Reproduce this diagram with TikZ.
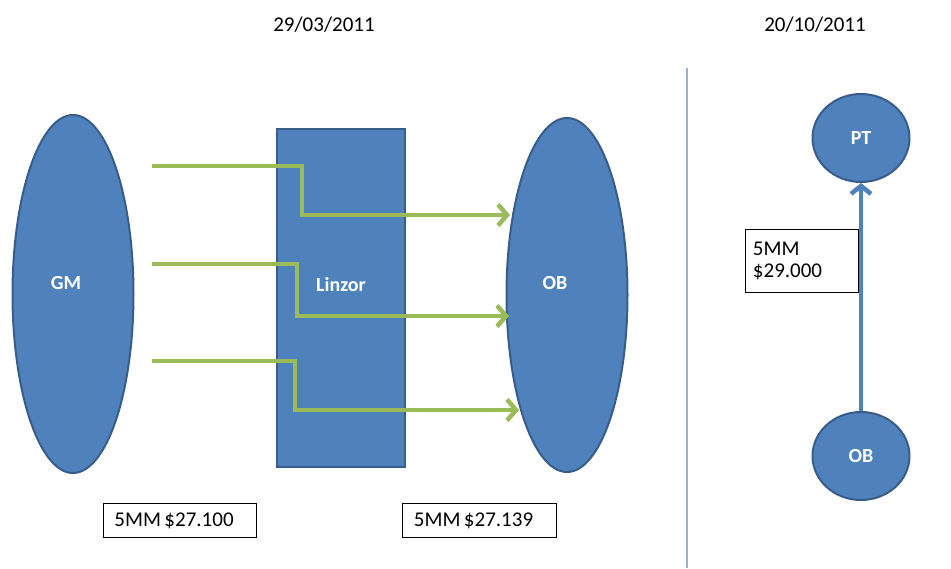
\documentclass[tikz,border=0pt]{standalone}
\usepackage{fontspec}
\setmainfont{Carlito}
\usetikzlibrary{arrows.meta,shapes.geometric}
\definecolor{shapefill}{HTML}{4F81BD}
\definecolor{shapeedge}{HTML}{385D8A}
\definecolor{flowgreen}{HTML}{9BBB59}
\definecolor{sepblue}{HTML}{95B3D7}
\tikzset{
  party/.style={ellipse, fill=shapefill, draw=shapeedge, line width=2pt, inner sep=0pt},
  lbl/.style={text=white, font=\fontsize{20}{24}\selectfont\bfseries},
  amount/.style={draw=black, line width=0.9pt, fill=white, anchor=north west,
    font=\fontsize{21}{22}\selectfont, align=left, inner sep=0pt},
  flow/.style={draw=flowgreen, line width=4.5pt,
    -{Straight Barb[length=9pt,width=21pt]}},
}

\begin{document}
\begin{tikzpicture}[x=1pt,y=-1pt]
    \useasboundingbox (0,0) rectangle (951,568);
    % ---- first date: GM to OB through Linzor
    \node (d1) at (324,25) {\fontsize{21}{24}\selectfont 29/03/2011};
    \node[party, minimum width=121pt, minimum height=358pt,
      label={[lbl,xshift=-7pt,yshift=11pt]center:GM}] (gm) at (73,294) {};
    \node[rectangle, fill=shapefill, draw=shapeedge, line width=2pt,
      minimum width=128pt, minimum height=338pt,
      label={[lbl,yshift=13pt]center:Linzor}] (lz) at (341,298) {};
    \node[party, minimum width=121pt, minimum height=354pt,
      label={[lbl,xshift=-12pt,yshift=12pt]center:OB}] (ob) at (567,295) {};
    \coordinate (s1) at (152,166); \coordinate (k1) at (302,215); \coordinate (e1) at (510,215);
    \coordinate (s2) at (152,264); \coordinate (k2) at (297,316); \coordinate (e2) at (509,316);
    \coordinate (s3) at (152,361); \coordinate (k3) at (295,410); \coordinate (e3) at (519,410);
    \foreach \i in {1,2,3} { \draw[flow] (s\i) -| (k\i) -- (e\i); }
    \node[amount, minimum width=153pt, minimum height=34pt, text width=131pt]
      (m1) at (103,503) {5MM\,\$27.100};
    \node[amount, minimum width=154pt, minimum height=34pt, text width=131pt]
      (m2) at (402,503) {5MM\,\$27.139};
    % ---- divider
    \coordinate (v1) at (687,68); \coordinate (v2) at (687,568);
    \draw[sepblue, line width=1.5pt] (v1) -- (v2);
    % ---- second date: OB to PT
    \node (d2) at (815,25) {\fontsize{21}{24}\selectfont 20/10/2011};
    \node[party, minimum width=97pt, minimum height=88pt] (pt) at (861,138) {};
    \node[lbl] at (pt) {PT};
    \node[party, minimum width=97pt, minimum height=88pt] (ob2) at (861,456) {};
    \node[lbl] at (ob2) {OB};
    \node[amount, minimum width=113pt, minimum height=63pt, text width=98pt]
      (m3) at (745,229) {5MM\\\$29.000};
    \draw[draw=shapefill, line width=4.5pt, -{Straight Barb[length=8pt,width=20pt]}]
      (ob2) -- (pt);
\end{tikzpicture}
\end{document}
